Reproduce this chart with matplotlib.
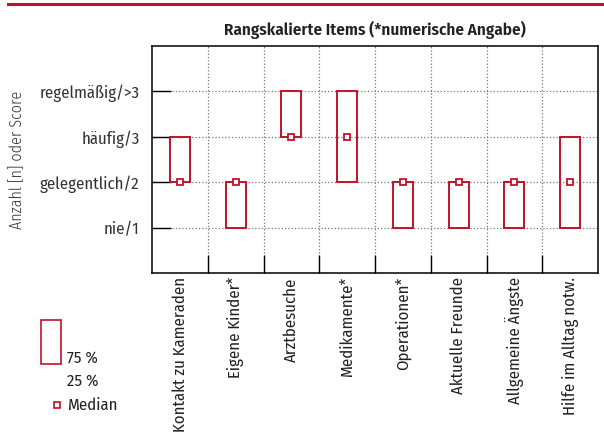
import matplotlib
matplotlib.use("Agg")
import matplotlib.pyplot as plt
from matplotlib.patches import Rectangle
from matplotlib.lines import Line2D
from matplotlib import font_manager as fm

names = {f.name for f in fm.fontManager.ttflist}
fam = "Lato"
for cand in ["Fira Sans Condensed", "Fira Sans Extra Condensed", "Roboto Condensed",
             "PT Sans Narrow", "Liberation Sans Narrow", "Open Sans Condensed"]:
    if cand in names:
        fam = cand
        break
plt.rcParams['font.family'] = [fam, 'DejaVu Sans']

categories = ["Kontakt zu Kameraden", "Eigene Kinder*", "Arztbesuche", "Medikamente*",
              "Operationen*", "Aktuelle Freunde", "Allgemeine Ängste", "Hilfe im Alltag notw."]
q25 = [2, 1, 3, 2, 1, 1, 1, 1]
q75 = [3, 2, 4, 4, 2, 2, 2, 3]
median = [2, 2, 3, 3, 2, 2, 2, 2]
ytick_values = [1, 2, 3, 4]
ytick_labels = ["nie/1", "gelegentlich/2", "häufig/3", "regelmäßig/>3"]

RED = "#c4112b"
FS = 12
fig = plt.figure(figsize=(6.04, 4.32), dpi=100)
W, H = 604, 432
ax = fig.add_axes([152/W, 1-273/H, 446/W, 227/H])

n = len(categories)
bw = 0.36
for i in range(n):
    ax.add_patch(Rectangle((i - bw/2, q25[i]), bw, q75[i]-q25[i], fill=False,
                           edgecolor=RED, lw=1.4, zorder=3))
ax.plot(range(n), median, ls='none', marker='s', ms=5, mfc='white', mec=RED, mew=1.3, zorder=4)

ax.set_xlim(-0.5, n-0.5)
ax.set_ylim(0, 5)
ax.set_yticks(ytick_values)
ax.set_yticklabels(ytick_labels, fontsize=FS, color="#333333")
ax.set_xticks([i + 0.5 for i in range(n-1)], minor=True)
ax.set_xticks(range(n))
ax.set_xticklabels(categories, rotation=90, fontsize=FS, color="#222222", va='top')
ax.tick_params(axis='x', which='major', length=0, pad=3)
ax.tick_params(axis='x', which='minor', direction='in', length=13, width=1)
ax.tick_params(axis='y', direction='in', length=14, width=1, pad=9)
ax.grid(True, axis='y', ls=':', color='#777777', lw=0.9)
ax.grid(True, axis='x', which='minor', ls=':', color='#777777', lw=0.9)
for s in ax.spines.values():
    s.set_linewidth(1.1)
ax.set_ylabel("Anzahl [n] oder Score", fontsize=11.5, color="#333333", fontweight=300)
ax.yaxis.set_label_coords(-127/446, 0.5)
fig.text(375/W, 1-30/H, "Rangskalierte Items (*numerische Angabe)", fontsize=12.3,
         fontweight='semibold', color="#222222", ha='center', va='center')

# top red line
fig.add_artist(Line2D([8/W, 1], [1-4/H, 1-4/H], color=RED, lw=2.2))

# legend
fig.add_artist(Rectangle((41/W, 1-364/H), 20/W, 44/H, fill=False, edgecolor=RED, lw=1.2))
fig.text(67/W, 1-358/H, "75 %", fontsize=FS, color="#222222", va='center')
fig.text(67/W, 1-381/H, "25 %", fontsize=FS, color="#222222", va='center')
fig.add_artist(Line2D([57/W], [1-405/H], marker='s', ms=5, mfc='white', mec=RED, mew=1.2))
fig.text(67/W, 1-405/H, "Median", fontsize=FS, color="#222222", va='center')

fig.savefig("out.png", dpi=100)
